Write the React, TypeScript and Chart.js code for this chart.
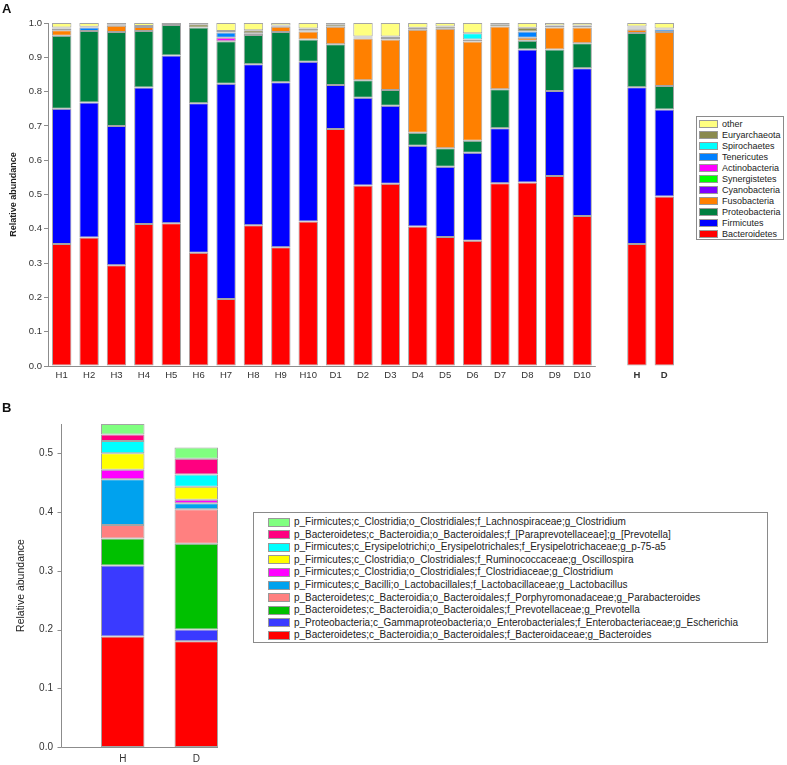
import React, { useEffect, useRef } from 'react';
import { Chart, registerables } from 'chart.js';

Chart.register(...registerables);

const FONT = "'Liberation Sans', Arial, Helvetica, sans-serif";

// ---------- Panel A data ----------
const SAMPLES = ['H1', 'H2', 'H3', 'H4', 'H5', 'H6', 'H7', 'H8', 'H9', 'H10',
  'D1', 'D2', 'D3', 'D4', 'D5', 'D6', 'D7', 'D8', 'D9', 'D10', 'H', 'D'];
const GROUP_LABELS = ['H', 'D'];

const PHYLA = ['Bacteroidetes', 'Firmicutes', 'Proteobacteria', 'Fusobacteria', 'Cyanobacteria',
  'Synergistetes', 'Actinobacteria', 'Tenericutes', 'Spirochaetes', 'Euryarchaeota', 'other'];
const PHYLUM_COLORS = ['#FF0000', '#0000FF', '#008040', '#FF8000', '#8000FF',
  '#00FF00', '#FF00FF', '#0080FF', '#00FFFF', '#8A8A4E', '#FFFF80'];

const BACTEROIDETES = [0.356, 0.375, 0.294, 0.414, 0.416, 0.330, 0.195, 0.410, 0.346, 0.421,
  0.691, 0.526, 0.531, 0.407, 0.376, 0.365, 0.533, 0.535, 0.554, 0.437, 0.356, 0.494];
const FIRMICUTES = [0.394, 0.393, 0.406, 0.398, 0.489, 0.436, 0.628, 0.470, 0.481, 0.466,
  0.128, 0.256, 0.228, 0.235, 0.205, 0.257, 0.160, 0.388, 0.248, 0.431, 0.457, 0.254];
const PROTEOBACTERIA = [0.213, 0.209, 0.274, 0.165, 0.089, 0.221, 0.124, 0.085, 0.147, 0.065,
  0.119, 0.051, 0.046, 0.038, 0.054, 0.035, 0.114, 0.025, 0.121, 0.073, 0.158, 0.068];
const FUSOBACTERIA = [0.016, 0, 0.018, 0.011, 0, 0, 0, 0, 0.015, 0.023,
  0.051, 0.122, 0.147, 0.300, 0.348, 0.289, 0.183, 0.009, 0.064, 0.046, 0.009, 0.158];
const CYANOBACTERIA = [0.005, 0, 0, 0, 0, 0, 0, 0, 0, 0,
  0, 0, 0, 0, 0, 0, 0, 0, 0, 0, 0.004, 0];
const SYNERGISTETES = [0, 0, 0, 0, 0, 0, 0, 0, 0, 0,
  0, 0, 0, 0, 0, 0, 0, 0, 0, 0, 0, 0];
const ACTINOBACTERIA = [0, 0, 0, 0, 0, 0, 0.010, 0, 0, 0,
  0, 0, 0, 0, 0, 0, 0, 0, 0, 0, 0, 0];
const TENERICUTES = [0, 0.010, 0, 0, 0, 0, 0.015, 0.005, 0, 0.004,
  0, 0.003, 0.004, 0, 0, 0.006, 0, 0.018, 0, 0, 0.003, 0.007];
const SPIROCHAETES = [0, 0, 0, 0, 0, 0, 0, 0, 0, 0,
  0, 0, 0, 0, 0, 0.018, 0, 0, 0, 0, 0, 0];
const EURYARCHAEOTA = [0.003, 0.002, 0.003, 0.003, 0.003, 0.009, 0.005, 0.009, 0.004, 0.005,
  0.007, 0.003, 0.005, 0.006, 0.007, 0, 0.006, 0.011, 0.006, 0.006, 0.003, 0.003];
const OTHER = [0.013, 0.011, 0.005, 0.009, 0.003, 0.004, 0.023, 0.021, 0.007, 0.016,
  0.004, 0.039, 0.039, 0.014, 0.010, 0.030, 0.004, 0.014, 0.007, 0.007, 0.010, 0.016];

const PHYLUM_VALUES = [BACTEROIDETES, FIRMICUTES, PROTEOBACTERIA, FUSOBACTERIA, CYANOBACTERIA,
  SYNERGISTETES, ACTINOBACTERIA, TENERICUTES, SPIROCHAETES, EURYARCHAEOTA, OTHER];

const Y_TICKS_A = [0, 0.1, 0.2, 0.3, 0.4, 0.5, 0.6, 0.7, 0.8, 0.9, 1.0];

// ---------- Panel B data ----------
const GROUPS_B = ['H', 'D'];
const GENERA = [
  'p_Bacteroidetes;c_Bacteroidia;o_Bacteroidales;f_Bacteroidaceae;g_Bacteroides',
  'p_Proteobacteria;c_Gammaproteobacteria;o_Enterobacteriales;f_Enterobacteriaceae;g_Escherichia',
  'p_Bacteroidetes;c_Bacteroidia;o_Bacteroidales;f_Prevotellaceae;g_Prevotella',
  'p_Bacteroidetes;c_Bacteroidia;o_Bacteroidales;f_Porphyromonadaceae;g_Parabacteroides',
  'p_Firmicutes;c_Bacilli;o_Lactobacillales;f_Lactobacillaceae;g_Lactobacillus',
  'p_Firmicutes;c_Clostridia;o_Clostridiales;f_Clostridiaceae;g_Clostridium',
  'p_Firmicutes;c_Clostridia;o_Clostridiales;f_Ruminococcaceae;g_Oscillospira',
  'p_Firmicutes;c_Erysipelotrichi;o_Erysipelotrichales;f_Erysipelotrichaceae;g_p-75-a5',
  'p_Bacteroidetes;c_Bacteroidia;o_Bacteroidales;f_[Paraprevotellaceae];g_[Prevotella]',
  'p_Firmicutes;c_Clostridia;o_Clostridiales;f_Lachnospiraceae;g_Clostridium',
];
const GENUS_COLORS = ['#FF0000', '#3A3AFF', '#00C000', '#FF8080', '#00A2EE',
  '#FF00FF', '#FFFF00', '#00FFFF', '#FF0080', '#80FF80'];

const G_BACTEROIDES = [0.188, 0.180];
const G_ESCHERICHIA = [0.121, 0.020];
const G_PREVOTELLA = [0.046, 0.146];
const G_PARABACTEROIDES = [0.023, 0.059];
const G_LACTOBACILLUS = [0.078, 0.010];
const G_CLOSTRIDIUM_CLOSTRIDIACEAE = [0.016, 0.006];
const G_OSCILLOSPIRA = [0.028, 0.022];
const G_P75A5 = [0.021, 0.021];
const G_PARAPREVOTELLA = [0.011, 0.027];
const G_CLOSTRIDIUM_LACHNO = [0.018, 0.019];

const GENUS_VALUES = [G_BACTEROIDES, G_ESCHERICHIA, G_PREVOTELLA, G_PARABACTEROIDES, G_LACTOBACILLUS,
  G_CLOSTRIDIUM_CLOSTRIDIACEAE, G_OSCILLOSPIRA, G_P75A5, G_PARAPREVOTELLA, G_CLOSTRIDIUM_LACHNO];

const Y_TICKS_B = [0, 0.1, 0.2, 0.3, 0.4, 0.5];

// ---------- helpers ----------
const N_INDIVIDUAL = SAMPLES.length - GROUP_LABELS.length; // 20
function withGap<T>(arr: T[], gap: T): T[] {
  return [...arr.slice(0, N_INDIVIDUAL), gap, ...arr.slice(N_INDIVIDUAL)];
}

const AXIS_COLOR = '#8c8c8c';
const BAR_BORDER = '#a4a4a4';
const BAR_PCT_B = 0.592;
const AXIS_GAP_B = 25; // y axis of panel B sits this far left of the plot area
const TICK_LEN = 4;

const baselinePluginA = {
  id: 'baselineA',
  afterDraw(chart: any) {
    const { ctx, chartArea, scales } = chart;
    const x = scales.x;
    const step = x.getPixelForValue(1) - x.getPixelForValue(0);
    const end = x.getPixelForValue(N_INDIVIDUAL - 1) + step / 2;
    ctx.save();
    ctx.strokeStyle = AXIS_COLOR;
    ctx.lineWidth = 1;
    ctx.beginPath();
    ctx.moveTo(chartArea.left, Math.round(chartArea.bottom) + 0.5);
    ctx.lineTo(end, Math.round(chartArea.bottom) + 0.5);
    ctx.stroke();
    ctx.restore();
  },
};

const axesPluginB = {
  id: 'axesB',
  afterDraw(chart: any) {
    const { ctx, chartArea, scales } = chart;
    const x = scales.x;
    const y = scales.y;
    const ax = Math.round(chartArea.left - AXIS_GAP_B) + 0.5;
    const by = Math.round(chartArea.bottom) + 0.5;
    const step = x.getPixelForValue(1) - x.getPixelForValue(0);
    const xEnd = x.getPixelForValue(GROUPS_B.length - 1) + (step * BAR_PCT_B) / 2;
    ctx.save();
    ctx.strokeStyle = AXIS_COLOR;
    ctx.lineWidth = 1;
    ctx.beginPath();
    ctx.moveTo(ax, chartArea.top);
    ctx.lineTo(ax, by);
    ctx.lineTo(xEnd, by);
    Y_TICKS_B.forEach((v) => {
      const py = Math.round(y.getPixelForValue(v)) + 0.5;
      ctx.moveTo(ax - TICK_LEN, py);
      ctx.lineTo(ax, py);
    });
    ctx.stroke();
    ctx.restore();
  },
};

export default function App() {
  const refA = useRef<HTMLCanvasElement | null>(null);
  const refB = useRef<HTMLCanvasElement | null>(null);

  useEffect(() => {
    const labelsA = withGap(SAMPLES, '');
    const chartA = new Chart(refA.current as HTMLCanvasElement, {
      type: 'bar',
      data: {
        labels: labelsA,
        datasets: PHYLA.map((name, i) => ({
          label: name,
          data: withGap(PHYLUM_VALUES[i] as (number | null)[], null).map((v) => (v ? v : null)),
          backgroundColor: PHYLUM_COLORS[i],
          borderColor: BAR_BORDER,
          borderWidth: 1,
          borderSkipped: false,
          barPercentage: 0.71,
          categoryPercentage: 1,
        })),
      },
      options: {
        responsive: false,
        animation: false,
        devicePixelRatio: 1,
        layout: { padding: { top: 23, left: 0, right: 22, bottom: 0 } },
        plugins: { legend: { display: false }, tooltip: { enabled: false } },
        scales: {
          x: {
            stacked: true,
            grid: { display: false, drawTicks: false },
            border: { display: false },
            ticks: {
              autoSkip: false,
              maxRotation: 0,
              minRotation: 0,
              padding: 4,
              color: '#333',
              font: (c: any) => ({ family: FONT, size: 9.5, weight: c.index > N_INDIVIDUAL ? 'bold' : 'normal' }),
            },
            afterFit: (s: any) => { s.height = 29; },
          },
          y: {
            stacked: true,
            min: 0,
            max: 1,
            afterBuildTicks: (s: any) => { s.ticks = Y_TICKS_A.map((v) => ({ value: v })); },
            ticks: {
              callback: (v: any) => Number(v).toFixed(1),
              padding: 2,
              color: '#333',
              font: { family: FONT, size: 9.5 },
            },
            grid: { drawOnChartArea: false, drawTicks: true, tickLength: TICK_LEN, color: AXIS_COLOR },
            border: { display: true, color: AXIS_COLOR },
            title: {
              display: true,
              text: 'Relative abundance',
              color: '#222',
              font: { family: FONT, size: 9, weight: 'bold' },
              padding: { top: 8, bottom: 0 },
            },
            afterFit: (s: any) => { s.width = 48; },
          },
        },
      },
      plugins: [baselinePluginA],
    } as any);

    const chartB = new Chart(refB.current as HTMLCanvasElement, {
      type: 'bar',
      data: {
        labels: GROUPS_B,
        datasets: GENERA.map((name, i) => ({
          label: name,
          data: GENUS_VALUES[i],
          backgroundColor: GENUS_COLORS[i],
          borderColor: BAR_BORDER,
          borderWidth: 1,
          borderSkipped: false,
          barPercentage: BAR_PCT_B,
          categoryPercentage: 1,
        })),
      },
      options: {
        responsive: false,
        animation: false,
        devicePixelRatio: 1,
        layout: { padding: { top: 24, left: 0, right: 37, bottom: 0 } },
        plugins: { legend: { display: false }, tooltip: { enabled: false } },
        scales: {
          x: {
            stacked: true,
            ticks: {
              autoSkip: false,
              maxRotation: 0,
              padding: 6,
              color: '#333',
              font: { family: FONT, size: 10 },
            },
            grid: { display: false, drawTicks: false },
            border: { display: false },
            afterFit: (s: any) => { s.height = 18; },
          },
          y: {
            stacked: true,
            min: 0,
            max: 0.55,
            afterBuildTicks: (s: any) => { s.ticks = Y_TICKS_B.map((v) => ({ value: v })); },
            ticks: {
              callback: (v: any) => Number(v).toFixed(1),
              padding: AXIS_GAP_B + TICK_LEN + 4,
              color: '#333',
              font: { family: FONT, size: 10 },
            },
            grid: { display: false, drawTicks: false },
            border: { display: false },
            title: {
              display: true,
              text: 'Relative abundance',
              color: '#222',
              font: { family: FONT, size: 10.5 },
              padding: { top: 15, bottom: 0 },
            },
            afterFit: (s: any) => {
              s.width = 86;
              s.paddingTop = 0;
              s.paddingBottom = 0;
            },
          },
        },
      },
      plugins: [axesPluginB],
    } as any);

    return () => {
      chartA.destroy();
      chartB.destroy();
    };
  }, []);

  const legendA = PHYLA.map((name, i) => ({ name, color: PHYLUM_COLORS[i] })).reverse();
  const legendB = GENERA.map((name, i) => ({ name, color: GENUS_COLORS[i] })).reverse();

  return (
    <div style={{ position: 'absolute', left: 0, top: 0, width: 787, height: 765, background: '#fff', fontFamily: FONT, overflow: 'hidden' }}>
      <canvas ref={refA} width={700} height={395} style={{ position: 'absolute', left: 0, top: 0, width: 700, height: 395 }} />
      <canvas ref={refB} width={270} height={365} style={{ position: 'absolute', left: 0, top: 400, width: 270, height: 365 }} />

      <div style={{ position: 'absolute', left: 2, top: 1, fontSize: 13, fontWeight: 'bold', color: '#111' }}>A</div>
      <div style={{ position: 'absolute', left: 2, top: 400, fontSize: 13, fontWeight: 'bold', color: '#111' }}>B</div>

      <div style={{ position: 'absolute', left: 696, top: 116, width: 88, height: 124, border: '1px solid #8a8a8a', boxSizing: 'border-box', background: '#fff' }}>
        {legendA.map((it, i) => (
          <div key={it.name} style={{ position: 'absolute', left: 2, top: 2 + i * 11, height: 10, display: 'flex', alignItems: 'center' }}>
            <span style={{ display: 'inline-block', width: 19, height: 8, background: it.color, border: '1px solid #999', boxSizing: 'border-box' }} />
            <span style={{ marginLeft: 4, fontSize: 9, color: '#222', whiteSpace: 'nowrap', lineHeight: '10px' }}>{it.name}</span>
          </div>
        ))}
      </div>

      <div style={{ position: 'absolute', left: 253, top: 512, width: 515, height: 131, border: '1px solid #8a8a8a', boxSizing: 'border-box', background: '#fff' }}>
        {legendB.map((it, i) => (
          <div key={it.name} style={{ position: 'absolute', left: 14, top: 3 + i * 12.6, height: 12, display: 'flex', alignItems: 'center' }}>
            <span style={{ display: 'inline-block', width: 22, height: 9, background: it.color, border: '1px solid #999', boxSizing: 'border-box' }} />
            <span style={{ marginLeft: 4, fontSize: 10, color: '#222', whiteSpace: 'nowrap', lineHeight: '12px' }}>{it.name}</span>
          </div>
        ))}
      </div>
    </div>
  );
}
